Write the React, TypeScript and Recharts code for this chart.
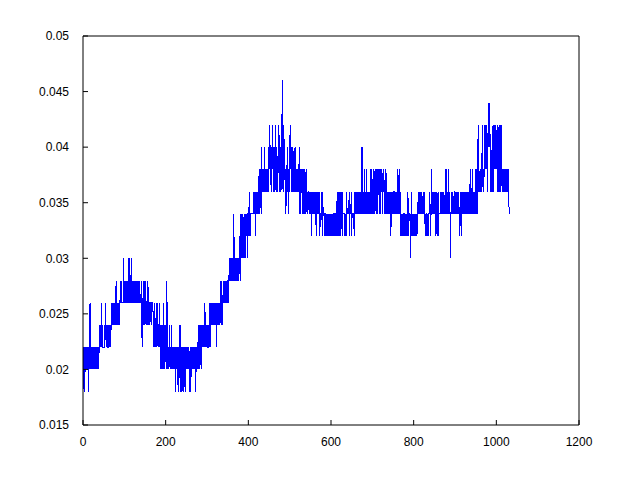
import React from "react";
import { LineChart, Line, XAxis, YAxis } from "recharts";

// Series values in thousandths (22 => 0.022), one per sample index
const samplesX1000: number[] = [
  18,22,20,22,18,20,22,20,22,20,22,20,
  20,22,18,22,20,26,20,22,20,22,20,22,
  20,22,20,22,20,22,20,22,20,22,20,22,
  20,22,20,22,24,22,24,22,24,26,22,24,
  22,22,22,22,24,22,26,24,22,24,22,24,22,
  22,24,22,24,22,24,22,24,26,24,26,24,
  24,26,24,26,24,26,24,28,26,24,26,24,
  24,26,24,26,24,28,26,26,28,26,26,26,
  26,30,26,28,26,28,26,28,26,28,26,28,
  26,28,30,26,30,28,26,28,26,30,26,28,
  26,28,26,26,28,26,28,26,26,28,26,26,
  28,26,28,26,28,26,26,26,28,26,22,26,
  26,28,24,26,28,24,26,28,24,26,24,26,
  28,26,24,26,26,24,26,26,26,24,26,26,
  26,24,22,24,26,22,24,22,26,24,22,24,26,
  22,24,22,26,22,24,20,24,20,22,24,20,
  22,26,20,24,20,22,24,20,22,28,20,22,
  20,22,20,22,24,20,22,20,24,22,20,22,
  20,22,20,22,20,22,18,22,20,22,20,22,
  18,22,20,24,22,18,24,20,22,18,22,20,
  18,22,20,22,20,18,22,20,22,20,22,20,
  22,20,22,20,18,22,20,18,22,20,22,20,
  22,20,22,20,22,20,22,18,22,20,22,20,
  22,24,20,24,22,20,24,22,20,24,22,24,
  22,24,22,24,22,26,22,24,22,24,22,24,22,
  22,24,22,26,24,22,26,24,26,24,26,24,
  24,26,24,26,24,26,24,26,22,26,24,26,
  24,26,24,26,24,28,26,24,26,28,24,26,
  26,28,26,28,26,28,26,28,26,28,26,28,
  28,26,28,30,28,30,28,30,28,30,28,30,28,
  28,34,28,30,28,30,28,30,28,30,28,30,
  30,28,30,32,28,34,32,30,34,32,30,34,
  32,30,34,32,30,34,32,34,32,34,30,34,
  34,32,36,32,34,32,34,34,34,34,34,34,
  34,36,34,36,34,36,32,36,34,36,34,36,34,
  34,38,36,34,36,38,34,40,36,38,36,38,
  36,38,40,36,38,36,38,36,38,36,38,36,
  38,40,38,42,38,40,36,40,38,42,38,40,
  36,38,40,36,38,42,36,38,40,38,36,38,
  38,42,38,36,38,40,36,38,40,46,38,36,
  38,42,38,40,36,38,34,38,36,40,36,38,
  36,34,40,36,42,38,40,36,40,38,36,40,
  36,38,36,38,40,36,38,36,38,36,38,36,
  38,36,40,34,36,38,34,38,36,38,34,36,
  34,38,36,34,38,36,34,36,38,34,36,34,36,
  36,34,36,34,36,34,36,32,34,36,34,36,
  34,36,34,36,34,36,32,34,36,34,36,34,
  36,34,36,32,34,34,34,36,34,32,36,34,
  34,34,32,34,34,32,34,32,34,32,34,32,
  34,32,34,32,34,32,34,32,34,32,34,32,34,
  34,32,34,34,32,34,32,34,36,34,32,36,
  34,36,32,34,36,32,36,34,32,36,34,34,
  34,34,32,34,32,34,32,36,34,34,34,34,
  34,36,32,34,34,34,36,32,34,34,34,34,
  34,32,34,36,34,36,34,36,34,36,34,36,34,
  34,36,34,36,34,36,34,40,34,36,34,36,
  34,38,34,36,34,36,38,34,36,34,36,34,
  36,34,36,34,38,34,36,38,34,36,34,36,
  38,34,36,38,36,34,38,36,34,38,36,38,
  36,34,38,36,34,38,36,38,34,36,38,36,
  38,34,36,34,36,38,34,36,34,36,34,36,
  34,36,34,36,34,32,36,34,36,34,36,34,36,
  36,34,36,34,36,34,36,34,36,38,34,36,
  38,34,36,34,32,34,32,34,32,34,32,34,
  34,32,34,32,34,32,34,32,34,36,34,32,
  34,34,34,30,34,32,36,32,34,32,34,32,
  34,32,34,32,34,32,34,32,34,34,36,34,
  36,34,34,36,34,34,34,36,34,34,36,34,34,
  36,34,32,34,32,34,34,32,34,32,34,34,
  34,36,34,32,34,38,34,36,34,36,34,36,
  34,36,34,36,32,36,34,32,34,36,32,34,
  34,34,34,36,34,34,36,34,34,36,34,34,
  34,34,36,34,38,34,38,34,36,34,38,34,
  34,36,34,30,34,34,36,34,34,36,34,34,36,
  36,34,36,34,36,34,36,34,36,34,36,34,
  32,34,36,34,32,36,34,36,34,36,34,36,
  34,36,34,36,34,36,34,36,34,36,34,36,
  34,36,38,34,36,34,36,38,34,36,34,36,
  34,36,34,38,34,38,36,34,38,42,36,38,36,
  36,38,36,38,36,38,42,38,36,38,36,42,
  38,42,38,40,42,38,40,36,42,40,44,40,
  44,40,36,40,38,36,40,36,42,36,40,42,
  38,42,38,42,40,38,42,36,42,38,36,42,
  36,42,38,36,42,38,36,38,36,38,36,38,
  36,38,36,38,36,38,36,38,36,38,36,34,
];

const xTicks = [0, 200, 400, 600, 800, 1000, 1200];
const yTicks = [0.015, 0.02, 0.025, 0.03, 0.035, 0.04, 0.045, 0.05];

const data = samplesX1000.map((v, i) => ({ x: i, y: v / 1000 }));

const tickStyle = { fill: "#000", fontSize: 12, fontFamily: "Liberation Sans, Arial, sans-serif" };

export default function App() {
  return (
    <div style={{ position: "absolute", left: 0, top: 0, width: 640, height: 480, background: "#fff" }}>
      <LineChart width={640} height={480} data={data} margin={{ top: 0, right: 0, bottom: 0, left: 0 }}>
        <XAxis
          xAxisId="b"
          dataKey="x"
          type="number"
          orientation="bottom"
          domain={[0, 1200]}
          ticks={xTicks}
          height={55}
          tickSize={-5}
          tickMargin={17}
          tick={tickStyle}
          axisLine={{ stroke: "#000" }}
          tickLine={{ stroke: "#000" }}
          allowDataOverflow
        />
        <XAxis
          xAxisId="t"
          dataKey="x"
          type="number"
          orientation="top"
          domain={[0, 1200]}
          ticks={xTicks}
          height={36}
          tickSize={-5}
          tick={false}
          axisLine={{ stroke: "#000" }}
          tickLine={{ stroke: "#000" }}
          allowDataOverflow
        />
        <YAxis
          yAxisId="l"
          type="number"
          orientation="left"
          domain={[0.015, 0.05]}
          ticks={yTicks}
          width={83}
          tickSize={-5}
          tickMargin={19}
          tick={tickStyle}
          axisLine={{ stroke: "#000" }}
          tickLine={{ stroke: "#000" }}
          allowDataOverflow
        />
        <YAxis
          yAxisId="r"
          type="number"
          orientation="right"
          domain={[0.015, 0.05]}
          ticks={yTicks}
          width={61}
          tickSize={-5}
          tick={false}
          axisLine={{ stroke: "#000" }}
          tickLine={{ stroke: "#000" }}
          allowDataOverflow
        />
        <Line
          xAxisId="b"
          yAxisId="l"
          type="linear"
          dataKey="y"
          stroke="#0000ff"
          strokeWidth={1}
          shapeRendering="crispEdges"
          dot={false}
          isAnimationActive={false}
        />
      </LineChart>
    </div>
  );
}
